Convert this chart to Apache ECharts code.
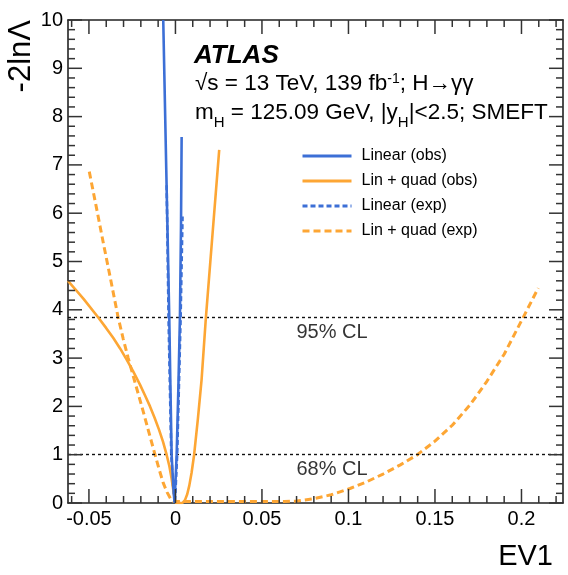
<!DOCTYPE html>
<html><head><meta charset="utf-8">
<script src="https://cdn.jsdelivr.net/npm/echarts@6/dist/echarts.min.js"></script>
<style>html,body{margin:0;padding:0;background:#fff}#c{width:568px;height:575px}</style>
</head><body><div id="c"></div>
<script>
// ---- data ----
const xRange = [-0.0621, 0.224];
const yRange = [0, 10];
const xTickValues = [-0.05, 0, 0.05, 0.1, 0.15, 0.2];
const xTickLabels = ['-0.05', '0', '0.05', '0.1', '0.15', '0.2'];
const yTickValues = [0, 1, 2, 3, 4, 5, 6, 7, 8, 9, 10];
const yTickLabels = ['0','1','2','3','4','5','6','7','8','9','10'];
const seriesNames = ['Linear (obs)', 'Lin + quad (obs)', 'Linear (exp)', 'Lin + quad (exp)'];

const linearObs = [
  [-0.00705, 10.0], [-0.0053, 6.9], [-0.00358, 3.86], [-0.0029, 2.4], [-0.0022, 1.0],
  [-0.0012, 0.3], [-0.0005, 0.0], [0.0007, 1.0], [0.0017, 2.4], [0.0026, 3.86],
  [0.0032, 5.7], [0.00358, 7.58]
];
const linQuadObs = [
  [-0.0621, 4.60], [-0.058, 4.43], [-0.053, 4.22], [-0.0446, 3.84], [-0.040, 3.62],
  [-0.036, 3.42], [-0.032, 3.20], [-0.0282, 2.97], [-0.0245, 2.73], [-0.0205, 2.45],
  [-0.0175, 2.22], [-0.0147, 2.00], [-0.012, 1.76], [-0.0095, 1.52], [-0.0072, 1.27],
  [-0.0051, 1.00], [-0.0035, 0.76], [-0.0022, 0.50], [-0.0012, 0.26], [-0.0004, 0.08],
  [0.0005, 0.0], [0.004, 0.0], [0.0055, 0.06], [0.0068, 0.18], [0.0080, 0.36],
  [0.0093, 0.62], [0.0108, 1.00], [0.0130, 1.75], [0.0151, 2.55], [0.0176, 3.84],
  [0.0215, 5.60], [0.0253, 7.31]
];
const linearExp = [
  [-0.0051, 6.58], [-0.0045, 5.2], [-0.0040, 3.86], [-0.0032, 2.4], [-0.0024, 1.0],
  [-0.0013, 0.3], [-0.0003, 0.0], [0.0010, 1.0], [0.0020, 2.4], [0.0030, 3.86],
  [0.0036, 5.0], [0.0041, 5.93]
];
const linQuadExp = [
  [-0.0498, 6.86], [-0.0457, 6.12], [-0.0415, 5.35], [-0.0373, 4.60], [-0.0331, 3.84],
  [-0.0302, 3.40], [-0.0273, 3.00], [-0.0234, 2.50], [-0.0196, 2.02], [-0.0157, 1.51],
  [-0.0118, 1.00], [-0.0093, 0.68], [-0.0070, 0.41], [-0.0048, 0.22], [-0.0028, 0.09],
  [-0.0010, 0.03], [0.005, 0.03], [0.02, 0.03], [0.04, 0.03], [0.055, 0.03],
  [0.063, 0.03], [0.07, 0.04], [0.08, 0.09], [0.09, 0.17], [0.1009, 0.30],
  [0.11, 0.43], [0.12, 0.60], [0.13, 0.79], [0.1394, 0.99], [0.15, 1.28],
  [0.16, 1.61], [0.17, 2.02], [0.1741, 2.22], [0.18, 2.52], [0.19, 3.08],
  [0.2001, 3.78], [0.2097, 4.45]
];
const clLevels = [3.84, 1];
const clLabels = ['95% CL', '68% CL'];

// ---- styling / layout ----
const FONT = 'Liberation Sans, Arial, Helvetica, sans-serif';
const BLUE = '#3c6fd6';
const ORANGE = '#fda634';
const AX = '#222';
const TICK = '#333';
const clLabelX = 0.0905;

const xMinor = [];
for (let i = -6; i <= 22; i++) if (i % 5 !== 0) xMinor.push(i / 100);
const yMinor = [];
for (let i = 0; i <= 50; i++) if (i % 5 !== 0) yMinor.push(i / 5);

// frame ticks as thin rectangle symbols anchored on the frame through the axes' scales
const TW = 1.5;
const tickItems = [];
function vTick(v, len) {
  tickItems.push({ value: [v, yRange[0]], symbolSize: [TW, len], symbolOffset: [0, -len / 2] });
  tickItems.push({ value: [v, yRange[1]], symbolSize: [TW, len], symbolOffset: [0, len / 2] });
}
function hTick(v, len) {
  tickItems.push({ value: [xRange[0], v], symbolSize: [len, TW], symbolOffset: [len / 2, 0] });
  tickItems.push({ value: [xRange[1], v], symbolSize: [len, TW], symbolOffset: [-len / 2, 0] });
}
xTickValues.forEach(v => vTick(v, 14));
xMinor.forEach(v => vTick(v, 7));
yTickValues.forEach(v => hTick(v, 14));
yMinor.forEach(v => hTick(v, 7));

function fmtX(v) { let b = 0; for (let i = 1; i < xTickValues.length; i++) if (Math.abs(xTickValues[i] - v) < Math.abs(xTickValues[b] - v)) b = i; return xTickLabels[b]; }

const xAxes = [
  { type: 'value', position: 'bottom', min: xRange[0], max: xRange[1],
    axisLine: { show: true, onZero: false, lineStyle: { color: AX, width: 1.6 } },
    axisTick: { show: false },
    axisLabel: { show: true, customValues: xTickValues, margin: 6, fontSize: 20, color: '#000', fontFamily: FONT, formatter: fmtX },
    splitLine: { show: false } },
  { type: 'value', position: 'top', min: xRange[0], max: xRange[1],
    axisLine: { show: true, onZero: false, lineStyle: { color: AX, width: 1.6 } },
    axisTick: { show: false }, axisLabel: { show: false }, splitLine: { show: false } }
];
const yAxes = [
  { type: 'value', position: 'left', min: yRange[0], max: yRange[1], interval: 1,
    axisLine: { show: true, onZero: false, lineStyle: { color: AX, width: 1.6 } },
    axisTick: { show: false },
    axisLabel: { show: true, margin: 5, fontSize: 20, color: '#000', fontFamily: FONT, formatter: v => yTickLabels[Math.round(v)] },
    splitLine: { show: false } },
  { type: 'value', position: 'right', min: yRange[0], max: yRange[1], interval: 1,
    axisLine: { show: true, onZero: false, lineStyle: { color: AX, width: 1.6 } },
    axisTick: { show: false }, axisLabel: { show: false }, splitLine: { show: false } }
];

function lineSeries(name, data, color, dash, w, z) {
  return { name, type: 'line', data, symbol: 'none', showSymbol: false, clip: true, z,
    xAxisIndex: 0, yAxisIndex: 0,
    lineStyle: { color, width: w, type: dash }, itemStyle: { color } };
}

const series = [
  lineSeries(seriesNames[3], linQuadExp, ORANGE, [7, 4], 3, 3),
  lineSeries(seriesNames[2], linearExp, BLUE, [5, 3], 2.6, 4),
  lineSeries(seriesNames[1], linQuadObs, ORANGE, 'solid', 2.6, 5),
  lineSeries(seriesNames[0], linearObs, BLUE, 'solid', 2.6, 6),
];
series[0].markLine = {
  silent: true, symbol: ['none', 'none'], label: { show: false },
  lineStyle: { color: '#111', width: 1.4, type: [3, 3] },
  data: clLevels.map(v => ({ yAxis: v }))
};
series.push({
  name: 'cl', type: 'scatter', symbolSize: 0, silent: true, xAxisIndex: 0, yAxisIndex: 0,
  data: clLevels.map((v, i) => ({ value: [clLabelX, v],
    label: { show: true, position: 'bottom', distance: 5, formatter: clLabels[i],
      fontSize: 20, color: '#000', fontFamily: FONT } }))
});
series.push({
  name: 'ticks', type: 'scatter', symbol: 'rect', data: tickItems, silent: true, clip: false,
  z: 10, xAxisIndex: 0, yAxisIndex: 0, itemStyle: { color: TICK, opacity: 1 },
  emphasis: { disabled: true }
});

const base = { fontFamily: FONT, color: '#000', fontWeight: 'normal' };
const FS = 22.5;
const rich = {
  n: Object.assign({ fontSize: FS, lineHeight: FS, verticalAlign: 'top' }, base),
  sub: Object.assign({ fontSize: 15, lineHeight: 15, padding: [14, 0, 0, 0], verticalAlign: 'top' }, base),
  sup: Object.assign({ fontSize: 14, lineHeight: 14, verticalAlign: 'top' }, base)
};

const option = {
  animation: false,
  backgroundColor: '#fff',
  grid: { left: 68, right: 5, top: 20, bottom: 72, containLabel: false, outerBoundsMode: 'none' },
  xAxis: xAxes,
  yAxis: yAxes,
  legend: {
    data: seriesNames, orient: 'vertical', left: 296, top: 143,
    itemWidth: 49, itemHeight: 4, itemGap: 9, selectedMode: false,
    itemStyle: { opacity: 0 },
    lineStyle: { width: 3 },
    textStyle: { fontSize: 16, color: '#000', fontFamily: FONT, padding: [0, 0, 0, 5] }
  },
  title: [
    { text: 'ATLAS', left: 194, top: 43, padding: 0,
      textStyle: { fontSize: 26, fontWeight: 'bold', fontStyle: 'italic', fontFamily: FONT, color: '#000', lineHeight: 26 } },
    { text: '{n|√s = 13 TeV, 139 fb}{sup|-1}{n|; H→γγ}', left: 195, top: 72, padding: 0,
      textStyle: { fontWeight: 'normal', rich } },
    { text: '{n|m}{sub|H}{n| = 125.09 GeV, |y}{sub|H}{n||<2.5; SMEFT}', left: 195, top: 101, padding: 0,
      textStyle: { fontWeight: 'normal', rich } }
  ],
  graphic: [
    { type: 'text', x: 21, y: 20, rotation: Math.PI / 2,
      style: { text: '-2lnΛ', fontSize: 31, fontFamily: FONT, fill: '#000', align: 'right', verticalAlign: 'middle' } },
    { type: 'text', x: 553, y: 557,
      style: { text: 'EV1', fontSize: 29, fontFamily: FONT, fill: '#000', align: 'right', verticalAlign: 'middle' } }
  ],
  series
};
const chart = echarts.init(document.getElementById('c'), null, { renderer: 'canvas' });
chart.setOption(option);
</script></body></html>
